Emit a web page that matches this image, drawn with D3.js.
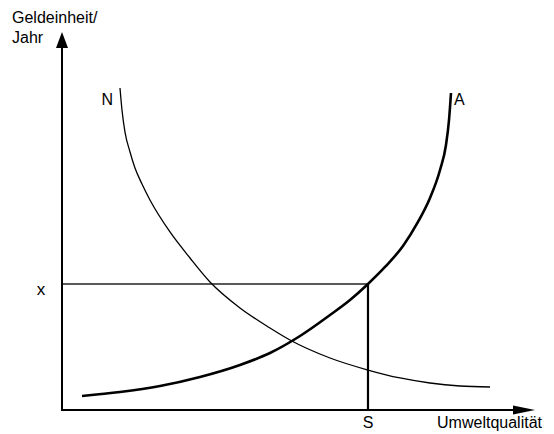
<!DOCTYPE html>
<html>
<head>
<meta charset="utf-8">
<script src="https://cdn.jsdelivr.net/npm/d3@7"></script>
<style>
  html, body { margin: 0; padding: 0; background: #fff; }
  svg { display: block; }
  text { font-family: "Liberation Sans", Arial, sans-serif; fill: #000; }
</style>
</head>
<body>
<svg id="chart" width="554" height="434"></svg>
<script>
// ---- data (abstract units: Umweltqualität on x, Geldeinheit/Jahr on y) ----
const curveA_x = [0.423, 1.226, 2.072, 2.918, 3.763, 4.397, 5.032, 5.666, 6.089, 6.469, 6.829, 7.209, 7.526, 7.780, 7.992, 8.118, 8.182, 8.224];
const curveA_y = [0.366, 0.470, 0.627, 0.862, 1.175, 1.488, 1.932, 2.480, 2.872, 3.290, 3.734, 4.282, 4.909, 5.535, 6.266, 6.919, 7.572, 8.277];
const curveN_x = [1.226, 1.268, 1.332, 1.438, 1.543, 1.691, 1.860, 2.283, 2.706, 3.129, 3.763, 4.397, 4.820, 5.666, 6.469, 7.146, 7.780, 8.414, 9.049];
const curveN_y = [8.407, 7.833, 7.258, 6.736, 6.319, 5.901, 5.483, 4.648, 3.969, 3.342, 2.663, 2.141, 1.828, 1.358, 1.044, 0.836, 0.705, 0.627, 0.601];
const levelX = 3.29;   // "x" on the vertical axis
const levelS = 6.469;  // "S" on the horizontal axis
const xAxisEnd = 10.0;
const yAxisEnd = 9.87;
const curveLabels = ["N", "A"];
const tickLabels = { y: "x", x: "S" };
const axisTitles = { y: ["Geldeinheit/", "Jahr"], x: "Umweltqualität" };

// ---- scales ----
const svg = d3.select("#chart");
const x = d3.scaleLinear().domain([0, 10]).range([62, 535]);
const y = d3.scaleLinear().domain([0, 10]).range([410, 27]);

const line = d3.line().x(d => x(d[0])).y(d => y(d[1])).curve(d3.curveMonotoneX);
const A = curveA_x.map((v, i) => [v, curveA_y[i]]);
const N = curveN_x.map((v, i) => [v, curveN_y[i]]);

// horizontal line at level x from axis to S
svg.append("line")
  .attr("x1", x(0)).attr("x2", x(levelS))
  .attr("y1", y(levelX)).attr("y2", y(levelX))
  .attr("stroke", "#222").attr("stroke-width", 1.3);

// vertical line at S
svg.append("line")
  .attr("x1", x(levelS)).attr("x2", x(levelS))
  .attr("y1", y(levelX)).attr("y2", y(0))
  .attr("stroke", "#000").attr("stroke-width", 2.2);

// N curve (thin)
svg.append("path").datum(N).attr("d", line)
  .attr("fill", "none").attr("stroke", "#000").attr("stroke-width", 1.3);

// A curve (thick)
svg.append("path").datum(A).attr("d", line)
  .attr("fill", "none").attr("stroke", "#000").attr("stroke-width", 2.6);

// axes
const tipX = x(xAxisEnd), tipY = y(yAxisEnd);
svg.append("line")
  .attr("x1", x(0)).attr("x2", tipX - 18)
  .attr("y1", y(0)).attr("y2", y(0))
  .attr("stroke", "#000").attr("stroke-width", 2);
svg.append("line")
  .attr("x1", x(0)).attr("x2", x(0))
  .attr("y1", y(0) + 1).attr("y2", tipY + 14)
  .attr("stroke", "#000").attr("stroke-width", 2);
// arrowheads
svg.append("path")
  .attr("d", `M${tipX},${y(0)} L${tipX - 22},${y(0) - 4.5} L${tipX - 22},${y(0) + 4.5} Z`)
  .attr("fill", "#000");
svg.append("path")
  .attr("d", `M${x(0)},${tipY} L${x(0) - 6},${tipY + 16} L${x(0) + 6},${tipY + 16} Z`)
  .attr("fill", "#000");

// texts
const fs = 16;
svg.append("text").attr("x", 12).attr("y", 23).attr("font-size", fs).text(axisTitles.y[0]);
svg.append("text").attr("x", 12).attr("y", 43).attr("font-size", fs).text(axisTitles.y[1]);
svg.append("text").attr("x", 542).attr("y", 428).attr("font-size", fs)
  .attr("text-anchor", "end").text(axisTitles.x);
svg.append("text").attr("x", x(levelS)).attr("y", 428).attr("font-size", fs)
  .attr("text-anchor", "middle").text(tickLabels.x);
svg.append("text").attr("x", 41).attr("y", y(levelX) + 11).attr("font-size", fs + 1)
  .attr("text-anchor", "middle").text(tickLabels.y);
// curve labels
const nStart = N[0], aEnd = A[A.length - 1];
svg.append("text").attr("x", x(nStart[0]) - 7).attr("y", y(nStart[1]) + 17)
  .attr("font-size", fs).attr("text-anchor", "end").text(curveLabels[0]);
svg.append("text").attr("x", x(aEnd[0]) + 3).attr("y", y(aEnd[1]) + 12)
  .attr("font-size", fs).text(curveLabels[1]);
</script>
</body>
</html>
